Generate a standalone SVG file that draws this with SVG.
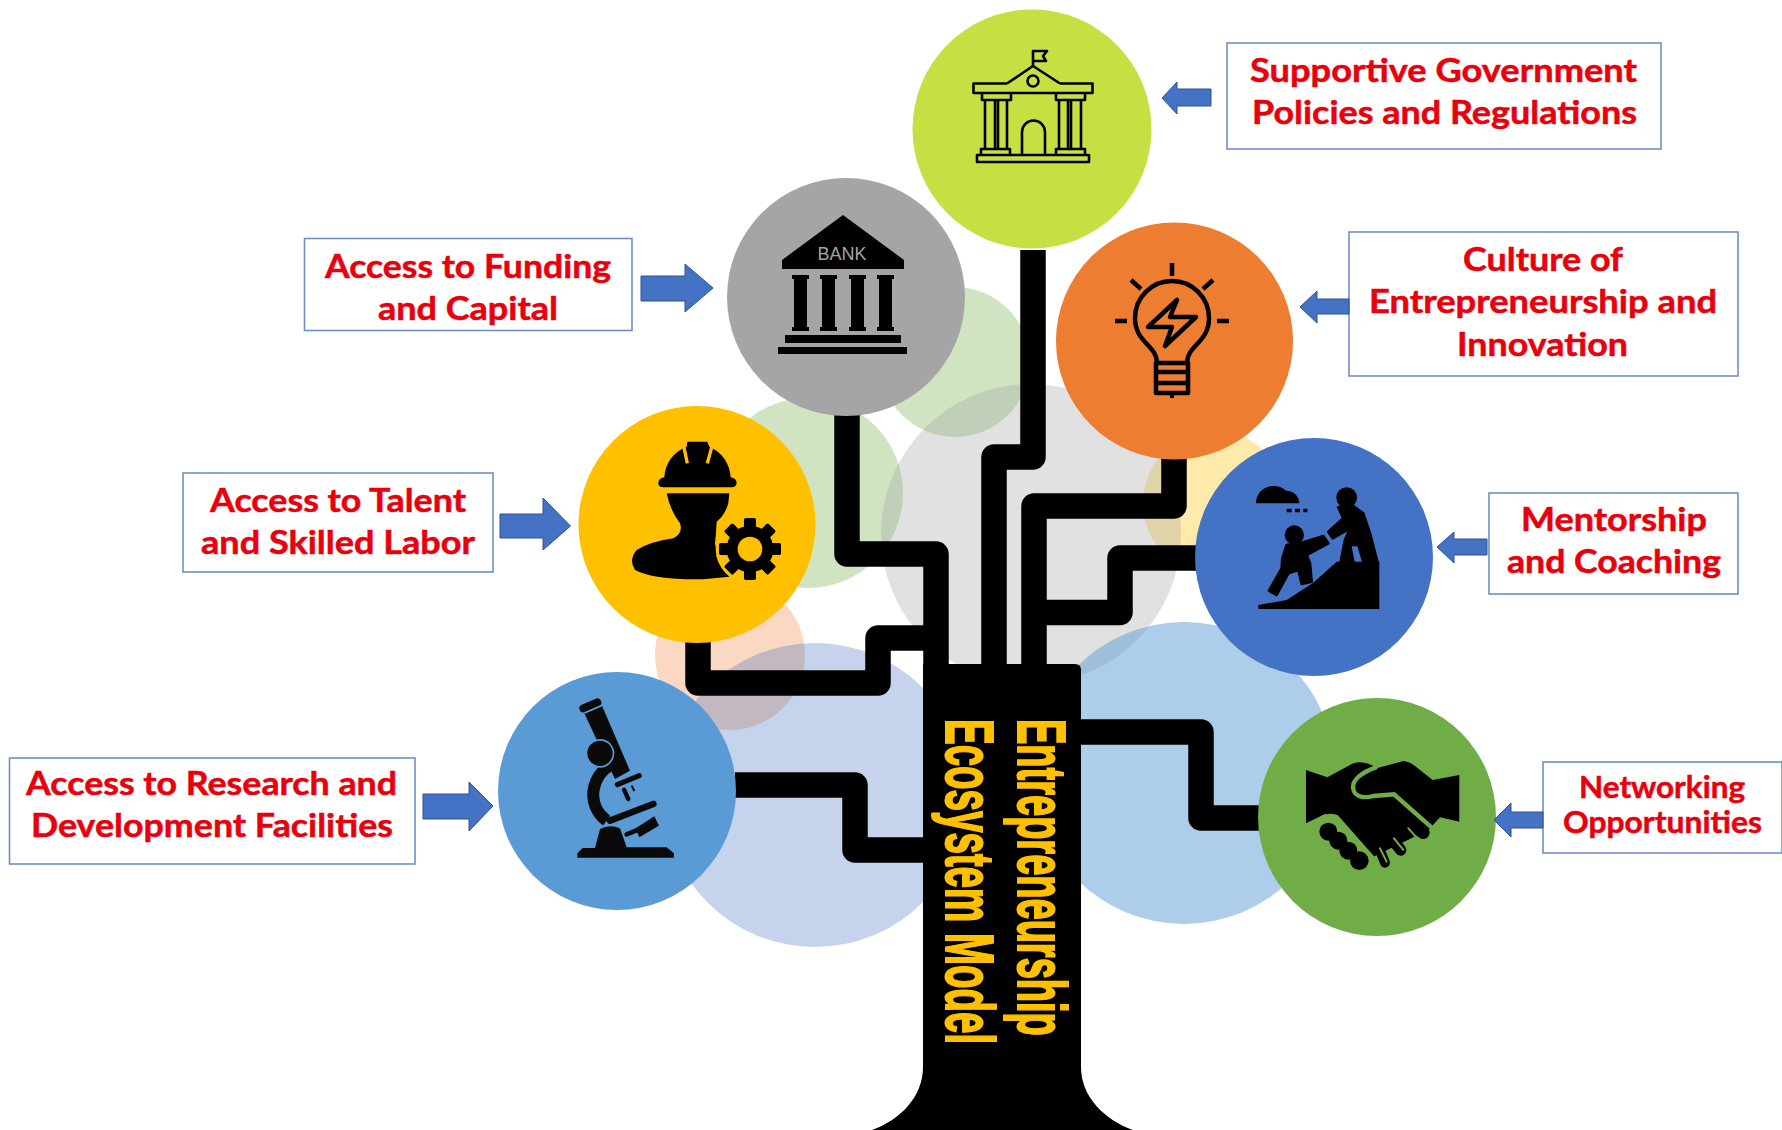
<svg xmlns="http://www.w3.org/2000/svg" width="1782" height="1130" viewBox="0 0 1782 1130">
<style>
.box{fill:#fff;stroke:#6f8fc2;stroke-width:1.6}
.lab{font-family:"Lato","Noto Sans",sans-serif;font-weight:700;font-size:32px;fill:#e8000c;stroke:#e8000c;stroke-width:.5}
.arr{fill:#4472c4;stroke:#2f528f;stroke-width:1}
.wire{fill:none;stroke:#000;stroke-width:25.5;stroke-linejoin:round}
.ttl{font-family:"Liberation Sans",Arial,sans-serif;font-weight:700;font-size:68px;fill:#ffc000;stroke:#ffc000;stroke-width:2}
.ol{fill:none;stroke:#000;stroke-width:2.6;stroke-linejoin:round}
</style>
<rect width="1782" height="1130" fill="#fff"/>
<g id="background-circles">
<circle cx="955" cy="362" r="75" fill="#70ad47" fill-opacity=".33"/>
<circle cx="808" cy="493" r="95" fill="#70ad47" fill-opacity=".33"/>
<circle cx="1215" cy="503" r="72" fill="#ffc000" fill-opacity=".33"/>
<circle cx="1031" cy="534" r="150" fill="#a5a5a5" fill-opacity=".33"/>
<circle cx="730" cy="655" r="75" fill="#ed7d31" fill-opacity=".3"/>
<circle cx="815" cy="795" r="152" fill="#4472c4" fill-opacity=".31"/>
<circle cx="1184" cy="773" r="151" fill="#5b9bd5" fill-opacity=".5"/>
</g>
<g id="connectors">
<path class="wire" d="M847 410V554H936V680"/>
<path class="wire" d="M698 640V683H878V638H936"/>
<path class="wire" d="M1033 250V457H994V680"/>
<path class="wire" d="M1174 458V506H1034V680"/>
<path class="wire" d="M1200 558H1120V612.5H1034"/>
<path class="wire" d="M1075 732H1201V818H1262"/>
<path class="wire" d="M930 850H855V785H735"/>
</g>
<g id="trunk">
<path d="M923 664H1075Q1081 664 1081 670V1067C1081 1097 1105 1120 1133 1130H872C900 1120 923 1097 923 1067Z" fill="#000"/>
<text class="ttl" transform="translate(1018 719) rotate(90) scale(.559 1)">Entrepreneurship</text>
<text class="ttl" transform="translate(946 719) rotate(90) scale(.566 1)">Ecosystem Model</text>
</g>
<g id="node-government">
<circle cx="1032" cy="129" r="119.5" fill="#c6e043"/>
<g class="ol">
<path d="M1007 83.500H973.500V93H1092.500V83.500H1060"/>
<path d="M1007 83.500L1033 66L1060 83.500"/>
<circle cx="1033" cy="81" r="5.500"/>
<path d="M1033 66V51H1047L1043 56L1046 61H1033"/>
<path d="M982 93V100H1011V93M985 100V149M1007 100V149M995 100V149M998 100V149M981 155V149H1010V155"/>
<path d="M1056 93V100H1085V93M1059 100V149M1081 100V149M1068 100V149M1071 100V149M1056 155V149H1085V155"/>
<rect x="977" y="155" width="112" height="7"/>
<path d="M1022 155V132A11.500 11.500 0 0 1 1045 132V155"/>
</g>
<rect x="1227" y="43" width="434" height="106" class="box"/>
<text class="lab" x="1250" y="82" textLength="387" lengthAdjust="spacingAndGlyphs">Supportive Government</text>
<text class="lab" x="1252" y="124" textLength="385" lengthAdjust="spacingAndGlyphs">Policies and Regulations</text>
<path class="arr" d="M1162 98L1177 82V89H1211V106H1177V114Z"/>
</g>
<g id="node-funding">
<circle cx="846" cy="297" r="119" fill="#a5a5a5"/>
<path d="M843 215L904 260V269H782V260Z"/>
<text x="842" y="260" text-anchor="middle" font-family="Liberation Sans,Arial,sans-serif" font-size="18" fill="#a5a5a5" textLength="49" lengthAdjust="spacingAndGlyphs">BANK</text>
<g>
<path d="M792 275H809V279H807V327H809V331H792V327H794V279H792Z"/>
<path d="M820 275H837V279H835V327H837V331H820V327H822V279H820Z"/>
<path d="M849 275H866V279H864V327H866V331H849V327H851V279H849Z"/>
<path d="M877 275H894V279H892V327H894V331H877V327H879V279H877Z"/>
<rect x="785" y="335" width="116" height="8"/>
<rect x="778" y="347" width="129" height="7"/>
</g>
<rect x="304.500" y="238.500" width="327.500" height="92" class="box"/>
<text class="lab" x="325" y="278" textLength="286" lengthAdjust="spacingAndGlyphs">Access to Funding</text>
<text class="lab" x="378" y="320" textLength="180" lengthAdjust="spacingAndGlyphs">and Capital</text>
<path class="arr" d="M641 276H685V264L713 288L685 312V301H641Z"/>
</g>
<g id="node-culture">
<circle cx="1174.500" cy="341" r="118.500" fill="#ed7d31"/>
<g fill="none" stroke="#000" stroke-width="4.500" stroke-linejoin="round">
<path d="M1172 263V276M1115 321H1127M1217 321H1229M1131 280L1141 289M1213 280L1203 289"/>
<path d="M1157 363C1157 345 1135 343 1135 318A37 37 0 0 1 1209 318C1209 343 1187 345 1187 363"/>
<path d="M1156 363H1188V393H1156ZM1156 372H1188M1156 383H1188"/>
<path d="M1148 327L1177 300L1170 317H1196L1165 346L1172 327Z"/>
</g>
<path d="M1170 393H1174V398H1170Z"/>
<rect x="1349" y="232" width="389" height="144" class="box"/>
<text class="lab" x="1463" y="271" textLength="160" lengthAdjust="spacingAndGlyphs">Culture of</text>
<text class="lab" x="1369" y="313" textLength="348" lengthAdjust="spacingAndGlyphs">Entrepreneurship and</text>
<text class="lab" x="1457" y="356" textLength="171" lengthAdjust="spacingAndGlyphs">Innovation</text>
<path class="arr" d="M1300 307L1317 291V299H1349V314H1317V323Z"/>
</g>
<g id="node-mentorship">
<circle cx="1314" cy="557" r="119" fill="#4472c4"/>
<g transform="translate(1170 430) scale(.3333)">
<path d="M258 220C258 190 282 168 310 168C330 168 340 175 348 182C372 182 388 200 388 220Z"/>
<path d="M350 236H365V247H350ZM375 236H390V247H375ZM400 236H412V247H400Z"/>
<circle cx="530" cy="203" r="31"/>
<path d="M505 232L545 225L580 250L600 310L622 395L580 395L565 345L540 345L550 395L512 395L525 330L540 295L488 325L475 305L520 265Z" stroke="#000" stroke-width="8" stroke-linejoin="round"/>
<circle cx="373" cy="315" r="29"/>
<path d="M350 345L395 338L460 318L475 340L410 375L420 400L425 455L395 462L385 420L355 430L320 495L297 482L335 415L337 385Z" stroke="#000" stroke-width="8" stroke-linejoin="round"/>
<path d="M265 525L350 510L430 458L500 395L628 395V537H265Z"/>
</g>
<rect x="1489" y="493" width="249" height="101" class="box"/>
<text class="lab" x="1521" y="531" textLength="186" lengthAdjust="spacingAndGlyphs">Mentorship</text>
<text class="lab" x="1507" y="573" textLength="214" lengthAdjust="spacingAndGlyphs">and Coaching</text>
<path class="arr" d="M1437 547L1454 532V539H1487V555H1454V563Z"/>
</g>
<g id="node-networking">
<circle cx="1377" cy="817" r="119" fill="#70ad47"/>
<g transform="translate(1240 690) scale(.3333)">
<path d="M198 240L262 262L340 220Q375 210 410 235L490 213Q510 215 525 228L578 270L658 255V395L600 382L565 420L400 500L300 385L255 372L198 400Z"/>
<g stroke="#000" stroke-linecap="round" fill="none">
<path d="M450 350L550 428" stroke-width="38"/>
<path d="M420 400L482 480" stroke-width="34"/>
<path d="M395 420L435 518" stroke-width="30"/>
</g>
<g fill="none" stroke="#70ad47" stroke-linecap="round">
<path d="M408 232C370 245 332 270 340 298C345 322 375 325 400 318L462 313L572 410" stroke-width="13"/>
<path d="M225 405Q250 368 290 380L400 505" stroke-width="11"/>
<path d="M505 415L532 445M462 445L490 480M420 475L440 515" stroke-width="6"/>
</g>
<circle cx="265" cy="425" r="27"/><circle cx="295" cy="452" r="27"/><circle cx="325" cy="482" r="27"/><circle cx="358" cy="512" r="28"/>
</g>
<rect x="1543" y="762" width="239" height="91" class="box"/>
<text class="lab" x="1579" y="798" style="font-size:30px" textLength="166" lengthAdjust="spacingAndGlyphs">Networking</text>
<text class="lab" x="1563" y="833" style="font-size:30px" textLength="199" lengthAdjust="spacingAndGlyphs">Opportunities</text>
<path class="arr" d="M1494 820L1511 803V812H1543V828H1511V837Z"/>
</g>
<g id="node-talent">
<circle cx="697" cy="524.500" r="118.500" fill="#ffc000"/>
<g transform="translate(570 400) scale(.3333)">
<path d="M265 250Q265 235 283 232C285 190 310 155 350 140L352 125H412L418 140C455 155 480 190 482 232Q500 235 500 250Q498 262 485 262H280Q265 262 265 250Z"/>
<path d="M342 142L352 190M425 142L412 190" stroke="#ffc000" stroke-width="10" fill="none"/>
<path d="M290 280H478L475 310Q465 345 440 365L438 400L435 430L445 480L478 530L400 538Q250 540 195 510Q175 480 200 450Q240 425 310 415Q340 400 330 370Q300 330 290 280Z"/>
<circle cx="540" cy="447" r="103" fill="#ffc000"/>
<circle cx="540" cy="447" r="70"/>
<g>
<rect x="522" y="354" width="36" height="186" rx="5"/>
<rect x="522" y="354" width="36" height="186" rx="5" transform="rotate(45 540 447)"/>
<rect x="522" y="354" width="36" height="186" rx="5" transform="rotate(90 540 447)"/>
<rect x="522" y="354" width="36" height="186" rx="5" transform="rotate(135 540 447)"/>
</g>
<circle cx="540" cy="447" r="37" fill="#ffc000"/>
</g>
<rect x="183" y="473" width="310" height="99" class="box"/>
<text class="lab" x="210" y="512" textLength="256" lengthAdjust="spacingAndGlyphs">Access to Talent</text>
<text class="lab" x="201" y="554" textLength="274" lengthAdjust="spacingAndGlyphs">and Skilled Labor</text>
<path class="arr" d="M500 514H543V498L570.500 526L543 550V538H500Z"/>
</g>
<g id="node-research">
<circle cx="617" cy="791" r="119" fill="#5b9bd5"/>
<g transform="translate(490 669) scale(.3333)" fill="#0a0a0a">
<path d="M283 133L336 110L420 305L375 330Z"/>
<path d="M280 118L322 100" stroke="#0a0a0a" stroke-width="24" stroke-linecap="round"/>
<path d="M284 132L334 110" stroke="#5b9bd5" stroke-width="5"/>
<path d="M365 285C305 320 285 405 350 455" fill="none" stroke="#0a0a0a" stroke-width="36"/>
<circle cx="330" cy="253" r="43" fill="#5b9bd5"/>
<circle cx="330" cy="253" r="38"/>
<path d="M360 455L490 405" stroke="#0a0a0a" stroke-width="20" stroke-linecap="round"/>
<path d="M382 347L448 320" stroke="#0a0a0a" stroke-width="15" stroke-linecap="round"/>
<path d="M402 362L415 390" stroke="#0a0a0a" stroke-width="13" stroke-linecap="round"/>
<path d="M425 350L433 366" stroke="#0a0a0a" stroke-width="6"/>
<path d="M437 478L493 442L507 470L448 505Z"/>
<path d="M410 496L445 482" stroke="#0a0a0a" stroke-width="14" stroke-linecap="round"/>
<path d="M262 566V553L278 537H315L330 480Q360 465 390 478L410 535H530L552 553V566Z"/>
</g>
<rect x="9.500" y="758" width="405.500" height="106" class="box"/>
<text class="lab" x="26" y="795" textLength="371" lengthAdjust="spacingAndGlyphs">Access to Research and</text>
<text class="lab" x="31" y="837" textLength="362" lengthAdjust="spacingAndGlyphs">Development Facilities</text>
<path class="arr" d="M423 794H469V782L493 806L469 831V819H423Z"/>
</g>
</svg>
